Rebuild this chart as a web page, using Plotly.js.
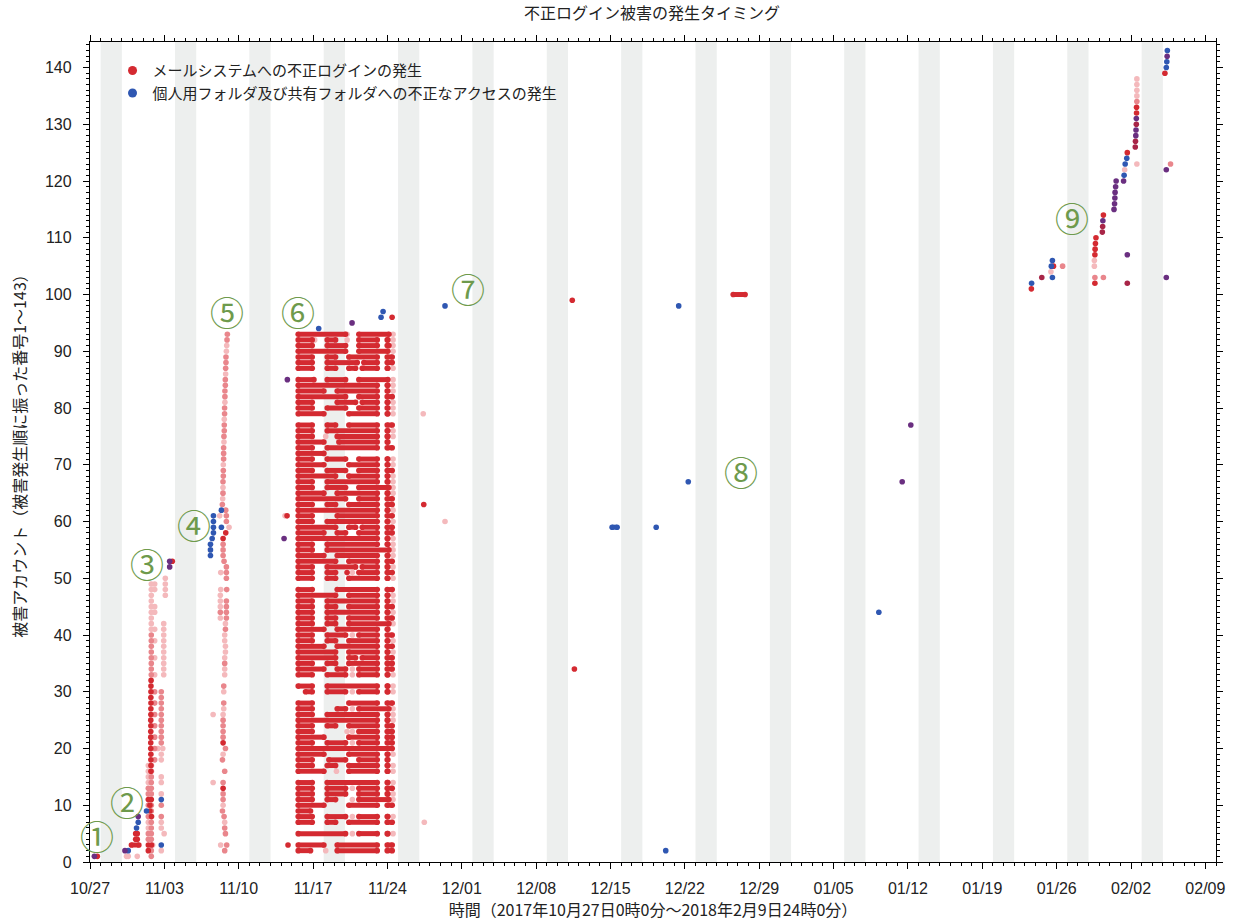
<!DOCTYPE html>
<html><head><meta charset="utf-8">
<script src="https://cdn.plot.ly/plotly-3.0.1.min.js"></script>
<style>html,body{margin:0;padding:0;background:#fff}#chart{width:1235px;height:921px}</style>
</head><body><div id="chart"></div>
<script>
// x values are days since 2017-10-27 00:00 ; y values are account numbers
const mailName = 'メールシステムへの不正ログインの発生';
const folderName = '個人用フォルダ及び共有フォルダへの不正なアクセスの発生';

// ⑥ block: account rows and continuous login periods [start, end]
const blockRows = [93,92,91,90,89,88,87,85,84,83,82,81,80,79,77,76,75,74,73,72,71,70,69,68,67,66,65,64,63,62,61,60,59,58,57,56,55,54,53,52,51,50,48,47,46,45,44,43,42,41,40,39,38,37,36,35,34,33,31,30,28,27,26,25,24,23,22,21,20,19,18,17,16,14,13,12,11,10,9,8,7,5,3,2];
const blockSegs = [
 [[19.60,24.06],[25.31,28.14]],
 [[19.60,20.92],[22.33,23.12],[25.31,27.04],[27.98,28.04]],
 [[19.60,20.92],[22.33,24.06],[25.31,27.04],[27.98,28.14]],
 [[19.60,24.06],[25.31,28.04]],
 [[19.60,20.92],[22.33,23.12],[24.37,27.04],[27.98,28.45]],
 [[19.60,20.92],[22.33,25.16],[25.78,27.04],[27.98,28.45]],
 [[19.60,20.92],[22.33,23.12],[24.37,25.00],[25.63,27.04],[27.98,28.04]],
 [[19.60,21.08],[22.33,24.06],[25.31,28.04]],
 [[19.60,27.04],[27.98,28.04]],
 [[19.60,22.02],[23.27,27.04],[27.98,28.04]],
 [[19.60,24.06],[25.31,27.04],[27.98,28.45]],
 [[19.60,20.92],[23.27,25.00],[25.63,27.04],[27.98,28.04]],
 [[19.60,20.92],[22.33,24.06],[25.31,27.04],[27.98,28.04]],
 [[19.60,22.02],[24.37,27.04],[27.98,28.04]],
 [[19.60,20.92],[22.33,23.12],[24.37,27.04],[27.98,28.45]],
 [[19.60,20.92],[22.33,27.04],[27.98,28.04]],
 [[19.60,20.92],[23.27,27.04],[27.98,28.04]],
 [[19.60,22.02],[23.43,27.04],[27.98,28.04]],
 [[19.60,20.92],[22.33,27.04],[27.98,28.45]],
 [[19.60,22.02]],
 [[19.60,20.92],[22.33,24.06],[25.31,27.04],[27.98,28.04]],
 [[19.60,22.02],[24.37,27.04],[27.98,28.04]],
 [[19.60,20.92],[22.33,24.06],[25.31,27.04],[27.98,28.45]],
 [[19.60,23.12],[24.37,27.04],[27.98,28.04]],
 [[19.60,20.92],[22.33,27.04],[27.98,28.04]],
 [[19.60,20.92],[22.33,24.06],[25.31,28.14]],
 [[19.60,22.02],[23.27,27.04],[27.98,28.04]],
 [[19.60,24.06],[25.31,27.04],[27.98,28.45]],
 [[19.60,20.92],[22.33,23.12],[24.37,27.04],[27.98,28.45]],
 [[19.60,27.04],[27.98,28.04]],
 [[19.60,20.92],[23.27,27.04],[27.98,28.45]],
 [[19.60,20.92],[22.33,27.04],[27.98,28.04]],
 [[19.60,23.12],[24.37,25.00],[25.63,27.04],[27.98,28.45]],
 [[19.60,22.02],[23.27,24.06],[25.31,27.04],[27.98,28.45]],
 [[19.60,27.04],[27.98,28.04]],
 [[19.60,20.92],[22.33,27.04],[27.98,28.04]],
 [[19.60,20.92],[22.33,28.14]],
 [[19.60,22.02],[23.27,27.04],[27.98,28.04]],
 [[19.60,23.12],[24.37,27.04],[27.98,28.45]],
 [[19.60,20.92],[22.33,25.00],[25.63,27.04],[27.98,28.04]],
 [[19.60,20.92],[22.33,23.12],[25.31,27.04],[27.98,28.45]],
 [[19.60,20.92],[22.33,23.12],[24.37,27.04],[27.98,28.04]],
 [[19.60,20.92],[23.27,27.04],[27.98,28.45]],
 [[19.60,23.12],[24.37,27.04],[27.98,28.04]],
 [[19.60,20.92],[22.33,27.04],[27.98,28.04]],
 [[19.60,20.92],[22.33,23.12],[24.37,27.04],[27.98,28.45]],
 [[19.60,20.92],[22.33,27.04],[27.98,28.04]],
 [[19.60,20.92],[22.33,23.12],[24.37,27.04],[27.98,28.45]],
 [[19.60,20.92],[22.33,23.12],[24.37,28.14]],
 [[19.60,22.02],[23.27,27.04],[27.98,28.04]],
 [[19.60,20.92],[22.33,24.06],[25.31,27.04],[27.98,28.45]],
 [[19.60,20.92],[22.33,23.12],[24.37,27.04],[27.98,28.04]],
 [[19.60,22.02],[23.27,27.04],[27.98,28.45]],
 [[19.60,23.12],[24.37,27.04],[27.98,28.04]],
 [[19.60,23.12],[24.37,25.00],[25.63,27.04],[27.98,28.45]],
 [[19.60,20.92],[22.33,23.12],[24.37,27.04],[27.98,28.45]],
 [[19.60,22.02],[23.27,24.06],[25.31,27.04],[27.98,28.45]],
 [[19.60,20.92],[22.33,24.06],[25.31,27.04],[27.98,28.04]],
 [[19.60,20.92],[22.33,27.04],[27.98,28.04]],
 [[20.29,20.92],[22.33,24.06],[25.31,27.04],[27.98,28.04]],
 [[19.60,20.92],[24.37,27.04],[27.98,28.45]],
 [[19.60,20.92],[23.27,24.06],[25.31,28.14]],
 [[19.60,20.92],[22.33,27.04],[27.98,28.04]],
 [[19.60,27.04],[27.98,28.04]],
 [[19.60,20.92],[22.33,23.12],[24.37,27.04],[27.98,28.45]],
 [[19.60,20.92],[25.31,27.04],[27.98,28.45]],
 [[19.60,22.02],[24.37,27.04],[27.98,28.45]],
 [[19.60,20.92],[22.33,24.06],[25.31,27.04],[27.98,28.45]],
 [[19.60,28.45]],
 [[19.60,22.02],[24.37,27.04],[27.98,28.04]],
 [[19.60,20.92],[22.49,24.06],[25.31,27.04],[27.98,28.04]],
 [[19.60,20.92],[22.33,23.12],[24.37,27.04],[27.98,28.04]],
 [[19.60,22.02],[24.37,27.04],[27.98,28.04]],
 [[19.60,20.92],[22.33,27.04],[27.98,28.04]],
 [[19.60,20.92],[22.33,24.06],[25.31,27.04],[27.98,28.45]],
 [[19.60,20.92],[22.33,24.06],[25.31,27.04],[27.98,28.04]],
 [[19.60,20.92],[22.33,23.12],[25.31,28.14]],
 [[19.60,22.02],[24.37,27.04],[27.98,28.45]],
 [[19.60,20.76]],
 [[19.60,20.92],[22.33,24.06],[25.31,27.04],[27.98,28.04]],
 [[19.60,20.92],[22.33,23.12],[24.37,27.04],[27.98,28.45]],
 [[19.60,24.06],[25.31,27.04],[27.98,28.04]],
 [[19.60,22.02],[23.27,27.04],[27.98,28.45]],
 [[19.60,20.76],[23.27,27.04],[27.98,28.45]]
];
// single faint logins inside the ⑥ block, per row
const blockPinks = [
 [24.2,28.53],[21.15,24.2,28.53],[28.53],[28.53],[],[],[28.53],[28.53],[28.53],[28.53],[],[28.53],[28.53],[28.53],[],[28.53],[22.19,28.53],[],[],[],[28.53],[28.53],[],[28.53],[28.53],[28.53],[28.53],[],[],[28.53],[],[28.53],[],[],[28.53],[28.53],[28.53],[28.53],[],[28.53],[24.7],[28.53],[],[28.53],[28.53],[],[28.53],[],[28.53],[],[24.7],[28.53],[],[28.53],[],[],[24.7],[24.7,28.53],[28.53],[24.7,28.53],[],[24.7,28.53],[28.53],[28.53],[],[24.2,24.7],[],[24.7],[],[28.53],[],[28.53],[23.2,28.53],[28.53],[24.7],[28.53],[24.7,28.53],[],[],[24.7,28.53],[],[24.7,28.53],[],[22.19]
];
// other continuous periods (per row)
const mailSegRows = [3,100];
const mailSegs = [[[3.9,4.6]],[[60.55,61.67]]];
const folderSegRows = [59];
const folderSegs = [[[49.15,49.62]]];

// individual events [day, account]
const mailStrong = [[0.69,1],[4.3,4],[4.45,4],[4.3,5],[4.45,5],[5.64,9],
 [5.75,32],[5.74,31],[5.74,30],[5.73,29],[5.74,28],[5.73,27],[5.73,26],[5.72,25],[5.73,24],[5.72,23],[5.72,22],[5.72,21],[5.72,20],[5.73,19],[5.73,18],[5.74,17],[5.74,16],
 [5.77,11],[5.49,11],[5.64,10],[5.79,8],[5.49,3],[5.79,3],[5.49,2],[7.75,53],
 [12.78,58],[12.53,57],[12.53,21],[12.53,13],
 [18.64,3],[18.55,61],[28.44,96],[31.42,63],[24.2,51],[45.4,99],[45.6,34],
 [88.62,101],[90.7,105],[94.6,102],[94.6,107],[94.62,108],[94.65,109],[94.7,110],[95.4,114],[97.65,125],[98.52,132],[98.52,133],[101.19,139]];
const mailMid = [[5.77,40],[5.77,39],[5.77,38],[5.77,37],[5.77,36],[5.77,35],[5.77,34],[5.77,33],
 [6.09,30],[6.09,28],[6.09,26],[6.09,24],[6.09,22],[6.09,20],[6.09,18],
 [6.71,30],[6.71,29],[6.71,28],[6.71,27],[6.71,26],[6.71,25],[6.71,24],[6.71,23],[6.71,22],[6.71,21],
 [5.77,15],[5.77,14],[5.77,13],[5.77,12],[5.77,10],[5.77,9],[5.77,7],[5.77,6],[5.77,5],[5.77,4],[5.77,2],[5.77,1],
 [5.49,13],[5.49,12],[5.49,10],[5.49,8],[5.49,5],[5.49,4],[6.71,10],[6.71,8],
 [12.93,93],[12.9,92],[12.8,89],[12.8,88],[12.77,87],[12.74,85],[12.74,84],[12.7,83],[12.7,82],[12.67,80],[12.67,79],[12.64,77],[12.64,76],[12.61,75],[12.58,73],[12.58,72],[12.58,71],[12.55,69],[12.55,68],[12.52,67],[12.52,65],[12.46,63],
 [12.78,62],[12.84,61],[12.84,60],[12.53,56],[12.53,55],[12.53,54],[12.62,53],[12.84,52],[12.84,51],[12.84,50],[12.87,48],[12.84,46],[12.84,45],[12.27,44],[12.84,44],[12.84,43],[12.75,41],[12.68,35],[12.59,31],[12.59,28],[12.53,25],[12.53,24],[12.53,23],[12.53,22],[12.75,20],[12.47,18],[12.68,16],[12.53,14],[12.53,12],[12.53,11],[12.47,9],[12.62,8],[12.68,6],[12.75,5],[12.87,3],[12.68,2],
 [91.56,105],[94.6,103],[95.4,103],[98.55,134],[101.72,123]];
const mailFaint = [[3.44,1],[3.6,1],[4.45,1],
 [5.77,49],[5.77,48],[5.77,47],[5.77,46],[5.77,45],[5.77,44],[5.77,43],[5.77,42],[5.77,41],
 [6.09,49],[6.09,48],[6.09,45],[6.09,44],[6.09,41],[6.09,39],[6.09,36],[6.09,33],
 [7.09,50],[7.09,49],[7.09,48],[7.09,47],
 [6.94,42],[6.94,41],[6.94,40],[6.94,39],[6.94,38],[6.94,37],[6.94,36],[6.94,35],[6.94,34],[6.94,33],
 [6.85,20],[6.4,20],[6.71,19],[6.71,18],[6.71,15],[6.71,14],[6.71,12],[6.71,7],[6.71,6],[6.98,5],[6.71,2],[5.9,3],
 [5.49,17],[5.49,16],[5.49,15],[5.49,14],[5.49,7],[5.49,6],[5.79,17],[5.79,16],
 [12.87,91],[12.84,90],[12.77,86],[12.7,81],[12.64,78],[12.61,74],[12.55,70],[12.52,66],[12.49,64],
 [12.21,61],[13.09,59],[12.31,51],[12.31,48],[12.27,47],[12.27,46],[12.27,45],[12.27,43],[12.75,42],[12.68,40],[12.68,39],[12.75,38],[12.75,37],[12.68,36],[12.68,34],[12.68,33],[12.59,30],[12.59,27],[11.59,26],[12.53,26],[12.53,19],[11.59,14],[12.53,10],[12.68,7],[12.3,3],
 [18.36,61],[31.37,79],[33.42,60],[31.47,7],
 [90.46,104],[94.55,105],[94.55,106],[97.4,122],[98.55,135],[98.55,136],[98.55,137],[98.55,138],[98.55,123]];
const folderEvents = [[3.6,2],[4.38,6],[4.54,7],[5.32,9],[6.71,11],[6.71,3],
 [12.37,62],[11.62,61],[11.62,60],[11.62,59],[12.37,59],[11.62,58],[11.5,57],[11.34,56],[11.34,55],[11.34,54],
 [21.53,94],[27.4,96],[27.59,97],[33.42,98],[53.3,59],[54.2,2],[55.42,98],[56.32,67],[74.26,44],
 [88.64,102],[90.6,103],[90.5,105],[90.6,106],[97.35,121],[97.45,123],[97.6,124],[101.32,140],[101.37,141],[101.42,143]];
const bothEvents = [[0.41,1],[3.29,2],[4.54,8],[7.5,53],[7.5,52],[18.58,85],[18.27,57],[24.67,95],[76.46,67],[77.27,77],
 [95.35,113],[96.4,115],[96.45,116],[96.48,117],[96.5,118],[96.55,119],[96.6,120],[97.3,120],[97.65,107],[98.45,128],[98.47,129],[98.5,131],[101.4,142],[101.32,122],[101.32,103]];
const bothMailHeavy = [[89.6,103],[95.3,111],[95.33,112],[97.65,102],[98.4,126],[98.42,127],[98.5,130]];

// circled phase labels [day, account, text]
const phaseLabels = [[0.66,4.75,'①'],[3.48,10.6,'②'],[5.36,52.6,'③'],[9.77,59.5,'④'],[12.87,97.0,'⑤'],[19.54,97.0,'⑥'],[35.6,101.1,'⑦'],[61.3,68.85,'⑧'],[92.47,113.6,'⑨']];

const tickDays = 7;
const totalDays = 106;

const T0 = Date.UTC(2017,9,27);
function d2s(d){
  if(d===null || d===undefined || !isFinite(d)) return null;
  const t = new Date(T0 + Math.round(d*86400000));
  const p = n=>String(n).padStart(2,'0');
  return t.getUTCFullYear()+'-'+p(t.getUTCMonth()+1)+'-'+p(t.getUTCDate())+' '+p(t.getUTCHours())+':'+p(t.getUTCMinutes())+':'+p(t.getUTCSeconds());
}
function segXY(rows, segs){
  const x=[], y=[];
  rows.forEach((r,i)=>{ (segs[i]||[]).forEach(s=>{ x.push(d2s(s[0]), d2s(s[1]), null); y.push(r, r, null); }); });
  return {x, y};
}
function ptsXY(p){ return {x:p.map(a=>d2s(a[0])), y:p.map(a=>a[1])}; }

const C = {red:'#d42a31', mid:'#e9868c', faint:'#f4b9bc', blue:'#2f57b2', purple:'#6a2f80', crimson:'#a82547'};
const MS = 5.6;

const pinkBlock = {x:[], y:[]};
blockRows.forEach((r,i)=>(blockPinks[i]||[]).forEach(d=>{pinkBlock.x.push(d2s(d)); pinkBlock.y.push(r);}));

const blockXY = segXY(blockRows, blockSegs);
const mailSegXY = segXY(mailSegRows, mailSegs);
const folderSegXY = segXY(folderSegRows, folderSegs);

function pt(p, color){ const xy = ptsXY(p); return {type:'scatter', mode:'markers', x:xy.x, y:xy.y, marker:{color:color, size:MS}, showlegend:false}; }

const traces = [
  {type:'scatter', mode:'markers', x:[null], y:[null], name:mailName, marker:{color:C.red, size:9}},
  {type:'scatter', mode:'markers', x:[null], y:[null], name:folderName, marker:{color:C.blue, size:9}},
  pt(mailFaint, C.faint),
  {type:'scatter', mode:'markers', x:pinkBlock.x, y:pinkBlock.y, marker:{color:C.faint, size:MS}, showlegend:false},
  pt(mailMid, C.mid),
  {type:'scatter', mode:'lines+markers', x:blockXY.x, y:blockXY.y, line:{color:C.red, width:5}, marker:{color:C.red, size:MS}, connectgaps:false, showlegend:false},
  {type:'scatter', mode:'lines+markers', x:mailSegXY.x, y:mailSegXY.y, line:{color:C.red, width:5}, marker:{color:C.red, size:MS}, connectgaps:false, showlegend:false},
  pt(mailStrong, C.red),
  pt(bothMailHeavy, C.crimson),
  {type:'scatter', mode:'lines+markers', x:folderSegXY.x, y:folderSegXY.y, line:{color:C.blue, width:5}, marker:{color:C.blue, size:MS}, connectgaps:false, showlegend:false},
  pt(folderEvents, C.blue),
  pt(bothEvents, C.purple)
];

const shapes = [];
for(let d=1; d<totalDays; d+=7){
  shapes.push({type:'rect', xref:'x', yref:'paper', x0:d2s(d), x1:d2s(Math.min(d+2,totalDays)), y0:0, y1:1, fillcolor:'#edefee', line:{width:0}, layer:'below'});
}

const annotations = phaseLabels.map(a=>({x:d2s(a[0]), y:a[1], text:a[2], showarrow:false, xanchor:'center', yanchor:'middle', font:{family:'Noto Sans CJK JP', size:34, color:'#6e9a4c'}}));

const baseFont = 'Liberation Sans, Noto Sans CJK JP, sans-serif';
const layout = {
  width:1235, height:921,
  margin:{l:90, r:19, t:42, b:59},
  paper_bgcolor:'#fff', plot_bgcolor:'#fff',
  font:{family:baseFont, size:16, color:'#222'},
  title:{text:'不正ログイン被害の発生タイミング', x:0.528, xanchor:'center', y:0.985, yref:'container', yanchor:'middle', font:{family:'Noto Sans CJK JP', size:16, color:'#222'}},
  showlegend:true,
  legend:{x:0.02, y:0.985, xanchor:'left', yanchor:'top', bgcolor:'rgba(0,0,0,0)', font:{family:'Noto Sans CJK JP', size:15, color:'#222'}, tracegroupgap:0},
  xaxis:{type:'date', range:[d2s(0), d2s(totalDays)], tick0:d2s(0), dtick:tickDays*86400000, tickformat:'%m/%d',
    ticks:'outside', ticklen:6, tickcolor:'#000', tickwidth:1, showline:true, linecolor:'#000', linewidth:1.2, mirror:'allticks',
    showgrid:false, zeroline:false, ticklabelstandoff:6, tickfont:{size:16, color:'#222'},
    minor:{dtick:86400000, ticks:'outside', ticklen:3, tickcolor:'#000', showgrid:false},
    title:{text:'時間（2017年10月27日0時0分〜2018年2月9日24時0分）', standoff:6, font:{family:'Noto Sans CJK JP', size:16, color:'#222'}}},
  yaxis:{range:[0,144.5], dtick:10, tick0:0, ticks:'outside', ticklen:6, tickcolor:'#000', tickwidth:1, showline:true, linecolor:'#000', linewidth:1.2, mirror:'allticks',
    showgrid:false, zeroline:false, ticklabelstandoff:8, tickfont:{size:16, color:'#222'},
    minor:{dtick:1, ticks:'outside', ticklen:3, tickcolor:'#000', showgrid:false},
    title:{text:'被害アカウント（被害発生順に振った番号1〜143）', standoff:14, font:{family:'Noto Sans CJK JP', size:16, color:'#222'}}},
  shapes: shapes, annotations: annotations,
  hovermode:'closest'
};

Plotly.newPlot('chart', traces, layout, {displayModeBar:false, staticPlot:true});
</script>
</body></html>
